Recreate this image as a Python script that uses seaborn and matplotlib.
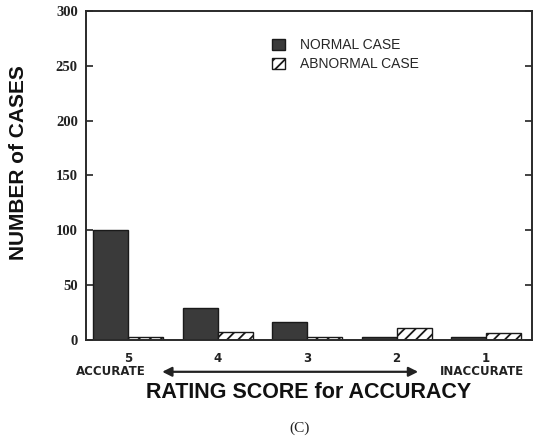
import matplotlib
matplotlib.use('Agg')
import matplotlib.pyplot as plt
import matplotlib.transforms as mtransforms
import seaborn as sns
import pandas as pd

# Données (C)
scores = ['5', '4', '3', '2', '1']
normal_case = [100, 29, 16, 3, 3]
abnormal_case = [2.5, 7.5, 3, 11, 6]
series_names = ['NORMAL CASE', 'ABNORMAL CASE']
y_ticks = [0, 50, 100, 150, 200, 250, 300]

df = pd.DataFrame({
    'score': scores * 2,
    'count': normal_case + abnormal_case,
    'case': [series_names[0]] * len(scores) + [series_names[1]] * len(scores),
})

sns.set_style('ticks')
plt.rcParams['hatch.linewidth'] = 1.3
plt.rcParams['hatch.color'] = '#222222'

fig = plt.figure(figsize=(5.35, 4.38), dpi=100)
ax = fig.add_axes([0.161, 0.224, 0.833, 0.751])

sns.barplot(data=df, x='score', y='count', hue='case', order=scores,
            hue_order=series_names, palette=['#3a3a3a', 'white'],
            saturation=1, width=0.78, edgecolor='#1a1a1a', linewidth=1.0,
            legend=False, ax=ax)

for patch in ax.containers[1]:
    patch.set_hatch('///')

ax.set_xlim(-0.47, 4.51)
ax.set_ylim(0, 300)
ax.set_yticks(y_ticks)
ax.set_yticklabels([str(v) for v in y_ticks], family='Liberation Serif',
                   fontweight='bold', fontsize=10.5)
ax.tick_params(axis='y', direction='in', length=5, width=1.2, right=True,
               pad=6, colors='#222222')
ax.tick_params(axis='x', length=0, pad=9)
ax.set_xticks(range(len(scores)))
ax.set_xticklabels(scores, family='DejaVu Sans', fontweight='bold',
                   fontsize=8.5, color='#222222')

for side in ['left', 'right', 'top', 'bottom']:
    ax.spines[side].set_visible(True)
    ax.spines[side].set_linewidth(1.4)
    ax.spines[side].set_color('#2a2a2a')

ax.set_ylabel('NUMBER of CASES', family='Liberation Sans', fontweight='bold',
              fontsize=15, color='#111111')
ax.yaxis.set_label_coords(-0.13, 0.54)
ax.set_xlabel('RATING SCORE for ACCURACY', family='Liberation Sans',
              fontweight='bold', fontsize=15.5, labelpad=12, color='#111111')

# Annotations sous l'axe des x
trans = mtransforms.blended_transform_factory(ax.transData, ax.transAxes)
ax.text(-0.19, -0.097, 'ACCURATE', transform=trans, ha='center', va='center',
        family='DejaVu Sans', fontweight='bold', fontsize=8.5,
        color='#222222')
ax.text(3.95, -0.097, 'INACCURATE', transform=trans, ha='center', va='center',
        family='DejaVu Sans', fontweight='bold', fontsize=8.5,
        color='#222222')
ax.annotate('', xy=(3.24, -0.097), xytext=(0.38, -0.097), xycoords=trans,
            textcoords=trans, annotation_clip=False,
            arrowprops=dict(arrowstyle='<|-|>', color='#222222', lw=1.6,
                            mutation_scale=14, shrinkA=0, shrinkB=0))

ax.legend(handles=[ax.containers[0][0], ax.containers[1][0]],
          labels=series_names, loc='upper left', bbox_to_anchor=(0.39, 0.955),
          frameon=False, handlelength=0.9, handleheight=0.9,
          handletextpad=1.1, labelspacing=0.35,
          prop={'family': 'Liberation Sans', 'size': 10})

fig.text(0.56, 0.023, '(C)', ha='center', va='center',
         family='Liberation Serif', fontsize=11, color='#222222')

fig.savefig('out.png', dpi=100)
plt.close(fig)
